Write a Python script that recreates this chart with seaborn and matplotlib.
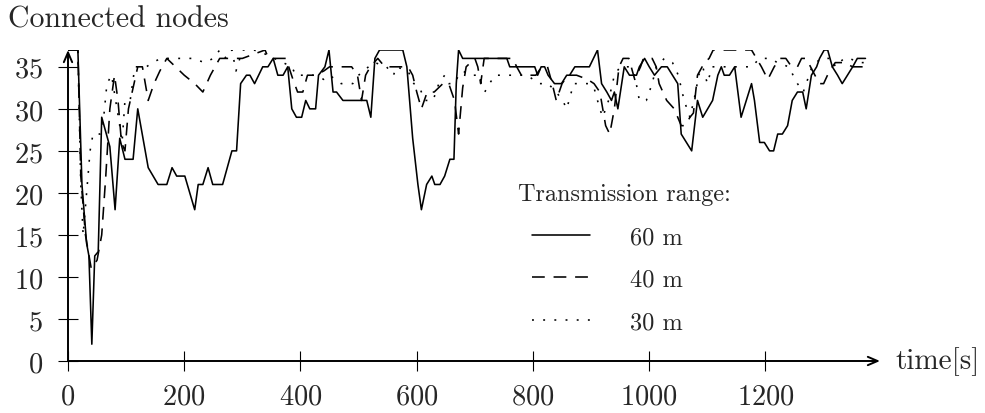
import pandas as pd
import seaborn as sns
import matplotlib.pyplot as plt

# values, time [s] vs connected nodes
t60 = [0, 17, 24, 32, 36, 41, 46, 52, 58, 64,
       72, 81, 89, 98, 112, 120, 138, 155, 170, 179,
       187, 201, 218, 224, 232, 241, 249, 266, 282, 290,
       297, 307, 313, 321, 335, 344, 353, 361, 370, 378,
       385, 393, 402, 409, 416, 426, 431, 442, 449, 456,
       462, 473, 514, 521, 528, 536, 576, 583, 593, 602,
       608, 617, 626, 631, 640, 648, 657, 664, 668, 672,
       679, 755, 760, 803, 808, 814, 820, 826, 837, 849,
       858, 863, 872, 897, 911, 918, 927, 935, 940, 946,
       957, 966, 978, 983, 992, 1000, 1009, 1021, 1031, 1040,
       1049, 1055, 1064, 1073, 1078, 1083, 1092, 1109, 1118, 1124,
       1129, 1138, 1147, 1158, 1167, 1176, 1181, 1190, 1198, 1207,
       1214, 1221, 1229, 1238, 1246, 1255, 1264, 1270, 1279, 1288,
       1293, 1301, 1307, 1315, 1324, 1332, 1341, 1350, 1358, 1372]
y60 = [37, 37, 21, 14, 12.5, 2, 12.5, 13, 29, 27.5,
       25.5, 18, 26.5, 24, 24, 30, 23, 21, 21, 23,
       22, 22, 18, 21, 21, 23, 21, 21, 25, 25,
       33, 34, 34, 33, 35, 35, 36, 34, 34, 35,
       30, 29, 29, 31, 30, 30, 34, 35, 37, 32,
       32, 31, 31, 29, 36, 37, 37, 35, 26.5, 21,
       18, 21, 22, 21, 21, 22, 24, 24, 33, 37,
       36, 36, 35, 35, 34, 35, 35, 34, 33, 33,
       34, 34, 35, 35, 37, 33, 32, 31, 32, 30,
       35, 34, 34, 35, 36, 35, 34, 35, 35, 34,
       33, 27, 26, 25, 28, 31, 29, 31, 34, 35,
       34, 34, 35, 29, 31, 33, 31, 26, 26, 25,
       25, 27, 27, 28, 31, 32, 32, 30, 34, 35,
       36, 37, 37, 35, 34, 33, 34, 35, 36, 36]

t40 = [0, 17, 22, 30, 40, 50, 58, 65, 72, 80,
       86, 92, 98, 104, 112, 120, 128, 138, 148, 158,
       170, 185, 200, 218, 232, 245, 253, 261, 290, 300,
       339, 345, 360, 375, 387, 395, 404, 412, 425, 440,
       450, 488, 498, 505, 512, 520, 533, 545, 565, 585,
       593, 600, 608, 618, 630, 645, 655, 665, 672, 679,
       685, 700, 705, 710, 716, 735, 745, 765, 772, 780,
       805, 815, 825, 833, 840, 850, 860, 875, 894, 905,
       915, 925, 932, 940, 948, 955, 965, 975, 985, 990,
       1005, 1012, 1017, 1030, 1043, 1055, 1062, 1070, 1076, 1083,
       1095, 1103, 1110, 1176, 1193, 1204, 1215, 1225, 1235, 1245,
       1255, 1262, 1270, 1285, 1293, 1300, 1310, 1320, 1335, 1350,
       1372]
y40 = [37, 37, 22, 15, 11, 12, 15, 22, 30, 34,
       31, 26, 25, 30, 32.5, 35, 35, 31, 33, 34.5,
       36, 35, 34, 33, 32, 34, 35, 36, 36, 36,
       37, 36, 36, 36, 33.5, 32, 32, 34, 34, 34.5,
       35, 35, 34, 31, 34, 35, 36, 35, 35, 35,
       34, 32, 30, 32, 32, 33, 33, 31, 27, 32.5,
       35, 36, 35, 33, 36, 36, 36, 36, 35, 34,
       34, 35, 35, 33, 31, 33, 34, 34, 33.5, 33,
       32, 28, 27, 30, 35, 36, 36, 33.5, 35, 36,
       36, 35, 33, 31, 30, 28, 28, 29, 29.5, 34,
       35.5, 36, 37, 37, 35, 33.5, 35, 36, 36, 35,
       35, 36, 36, 34, 33, 33, 34.5, 35.5, 35.5, 35,
       35]

t30 = [0, 17, 22, 26, 32, 38, 43, 55, 60, 67,
       75, 82, 89, 93, 98, 107, 115, 125, 135, 145,
       160, 185, 200, 215, 235, 250, 261, 272, 282, 289,
       300, 320, 340, 355, 370, 385, 392, 410, 426, 440,
       450, 470, 490, 500, 517, 528, 548, 560, 565, 585,
       595, 605, 614, 628, 638, 648, 655, 665, 672, 680,
       690, 705, 717, 725, 735, 790, 810, 826, 840, 851,
       858, 870, 880, 895, 905, 915, 920, 930, 940, 950,
       965, 975, 983, 995, 1005, 1012, 1026, 1040, 1050, 1060,
       1070, 1080, 1085, 1092, 1100, 1108, 1176, 1190, 1200, 1210,
       1220, 1240, 1255, 1265, 1275, 1280, 1295, 1315, 1320, 1335,
       1345, 1360, 1372]
y30 = [37, 37, 21, 15, 20, 25, 27, 27, 28, 33,
       34, 31, 28, 26, 31, 31, 35, 35, 35, 35.5,
       36, 36, 36, 36, 35.5, 36, 37, 36, 37, 34.5,
       37, 37, 36.5, 36, 35.5, 35, 34, 34, 34, 33.5,
       34, 33, 33, 34, 35, 35.5, 35, 34, 35, 34.5,
       33, 32.5, 31, 31, 33, 34, 33, 33, 34, 34.5,
       34, 34, 32, 33, 34, 34, 33, 33, 32, 31,
       30, 33, 33, 33, 32.5, 30, 29, 31, 34, 35,
       35, 34, 31, 31, 33, 35, 36, 35.5, 34, 31,
       29, 32, 34, 35, 33, 35, 35, 36, 36, 36,
       35.5, 35, 33, 32, 34, 35, 36, 36, 35, 36,
       36, 35.5, 35.5]

ranges = ["60 m", "40 m", "30 m"]

df = pd.concat([
    pd.DataFrame({"time": t60, "nodes": y60, "range": ranges[0]}),
    pd.DataFrame({"time": t40, "nodes": y40, "range": ranges[1]}),
    pd.DataFrame({"time": t30, "nodes": y30, "range": ranges[2]}),
])

sns.set_style("white")
plt.rcParams["font.family"] = ["cmr10", "DejaVu Serif"]
plt.rcParams["mathtext.fontset"] = "cm"
plt.rcParams["axes.formatter.use_mathtext"] = True

fig = plt.figure(figsize=(9.85, 4.14), dpi=100)
ax = fig.add_axes([68 / 985, 52 / 414, 812 / 985, 311 / 414])

sns.lineplot(
    data=df, x="time", y="nodes", style="range", style_order=ranges,
    dashes={"60 m": "", "40 m": (8, 5.5), "30 m": (1.2, 5.8)},
    color="black", linewidth=1.15, sort=False, ax=ax,
)

ax.set_xlim(0, 1397)
ax.set_ylim(0, 37)
ax.set_xticks([0, 200, 400, 600, 800, 1000, 1200])
ax.set_yticks([0, 5, 10, 15, 20, 25, 30, 35])
ax.set_xlabel("")
ax.set_ylabel("")
for s in ax.spines.values():
    s.set_visible(False)
ax.tick_params(axis="both", direction="inout", length=15, width=0.8,
               labelsize=20.5, color="black")
ax.tick_params(axis="x", bottom=True, pad=8.5)
ax.tick_params(axis="y", left=True, pad=10.5)

# axis arrows
arrow = dict(arrowstyle="->,head_length=0.7,head_width=0.3", lw=1.4,
             color="black", shrinkA=0, shrinkB=0)
ax.annotate("", xy=(1, 0), xytext=(0, 0), xycoords="axes fraction",
            arrowprops=arrow, annotation_clip=False)
ax.annotate("", xy=(0, 1), xytext=(0, 0), xycoords="axes fraction",
            arrowprops=arrow, annotation_clip=False)

ax.text(1 + 15 / 812, 0, "time[s]", transform=ax.transAxes,
        fontsize=21, ha="left", va="center")
fig.text(8 / 985, 1 - 20 / 414, "Connected nodes", fontsize=21.5,
         ha="left", va="center")

# legend: title as text, entries indented below it
ax.text((518 - 68) / 812, (362 - 195) / 311, "Transmission range:",
        transform=ax.transAxes, fontsize=17.5, ha="left", va="center")
handles, labels = ax.get_legend_handles_labels()
for h in handles:
    h.set_linewidth(1.15)
ax.legend(handles, labels, frameon=False, loc="upper left",
          bbox_to_anchor=((532 - 68) / 812, 0.434), borderpad=0,
          borderaxespad=0, fontsize=17.5, handlelength=2.4,
          handletextpad=1.65, labelspacing=0.84)

fig.savefig("out.png", dpi=100)
